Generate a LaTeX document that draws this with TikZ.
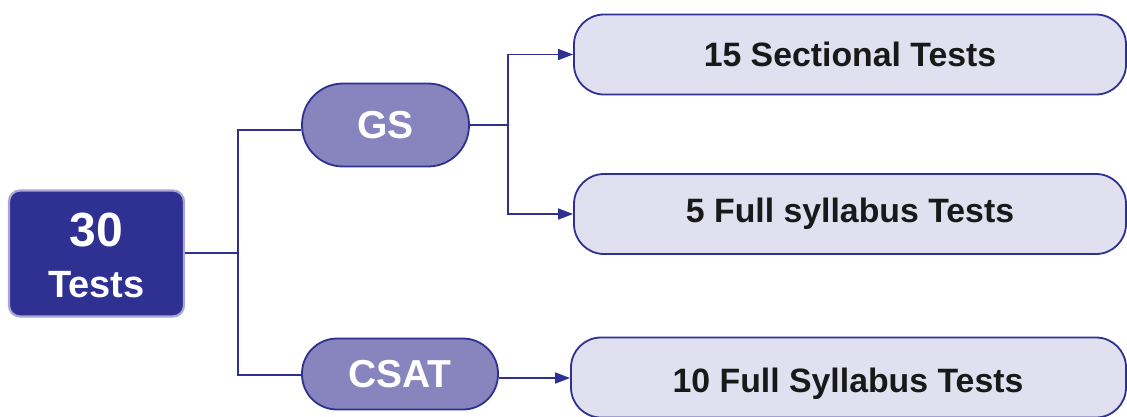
\documentclass[tikz,border=0pt]{standalone}
\usepackage{fontspec}
\setmainfont{Liberation Sans}
\usetikzlibrary{arrows.meta}
\definecolor{navy}{HTML}{2E3192}
\definecolor{lav}{HTML}{8884BE}
\definecolor{pale}{HTML}{E1E0F0}
\definecolor{rim}{HTML}{A9A7D3}
\tikzset{
  root/.style={draw=rim, line width=2.2pt, fill=navy, rounded corners=11pt, inner sep=0pt,
    minimum width=175pt, minimum height=126pt},
  roottext/.style={text=white, inner sep=0pt, font=\bfseries},
  mid/.style={draw=navy, line width=1.8pt, fill=lav, inner sep=0pt, text=white,
    font=\fontsize{39}{40}\selectfont\bfseries},
  leaf/.style={draw=navy, line width=1.8pt, fill=pale, inner sep=0pt, rounded corners=30pt,
    minimum width=552pt, minimum height=80pt},
  leaftext/.style={font=\fontsize{33.8}{36}\selectfont\bfseries, text=black!90},
  conn/.style={draw=navy, line width=1.6pt},
  arr/.style={conn, -{Triangle[length=15pt,width=11pt]}}
}
\begin{document}
\begin{tikzpicture}[x=1pt,y=-1pt]
\useasboundingbox (0,0) rectangle (1127,416);
\node[root] (t30) at (96.5,253.5) {};
\node[roottext, font=\fontsize{48}{48}\selectfont\bfseries] (n30) at (96.5,230) {30};
\node[roottext, font=\fontsize{38}{38}\selectfont\bfseries] (ntests) at (96.5,285) {Tests};
\node[mid, minimum width=167pt, minimum height=83pt, rounded corners=41pt] (gs) at (385.5,125) {GS};
\node[mid, minimum width=196pt, minimum height=71pt, rounded corners=35pt] (csat) at (400,374) {CSAT};
\node[leaf] (l15) at (850,54.5) {};
\node[leaf] (l5) at (850,214) {};
\node[leaf, minimum width=555pt] (l10) at (848.5,377.5) {};
\node[leaftext] (tx15) at (l15.center) {15 Sectional Tests};
\node[leaftext] (tx5) at (l5.center) {5 Full syllabus Tests};
\node[leaftext] (tx10) at (848,384) {10 Full Syllabus Tests};
\coordinate (j1) at (238,253);
\coordinate (j2) at (508,125);
\draw[conn] (t30.east |- j1) -- (j1);
\draw[conn] (j1) |- ([yshift=-5pt]gs.west);
\draw[conn] (j1) |- ([yshift=-1pt]csat.west);
\draw[conn] (gs.east) -- (j2);
\draw[arr] (j2) |- (l15.west);
\draw[arr] (j2) |- (l5.west);
\draw[arr] ([yshift=-4pt]csat.east) -- ([yshift=-4pt]csat.east -| l10.west);
\end{tikzpicture}
\end{document}
